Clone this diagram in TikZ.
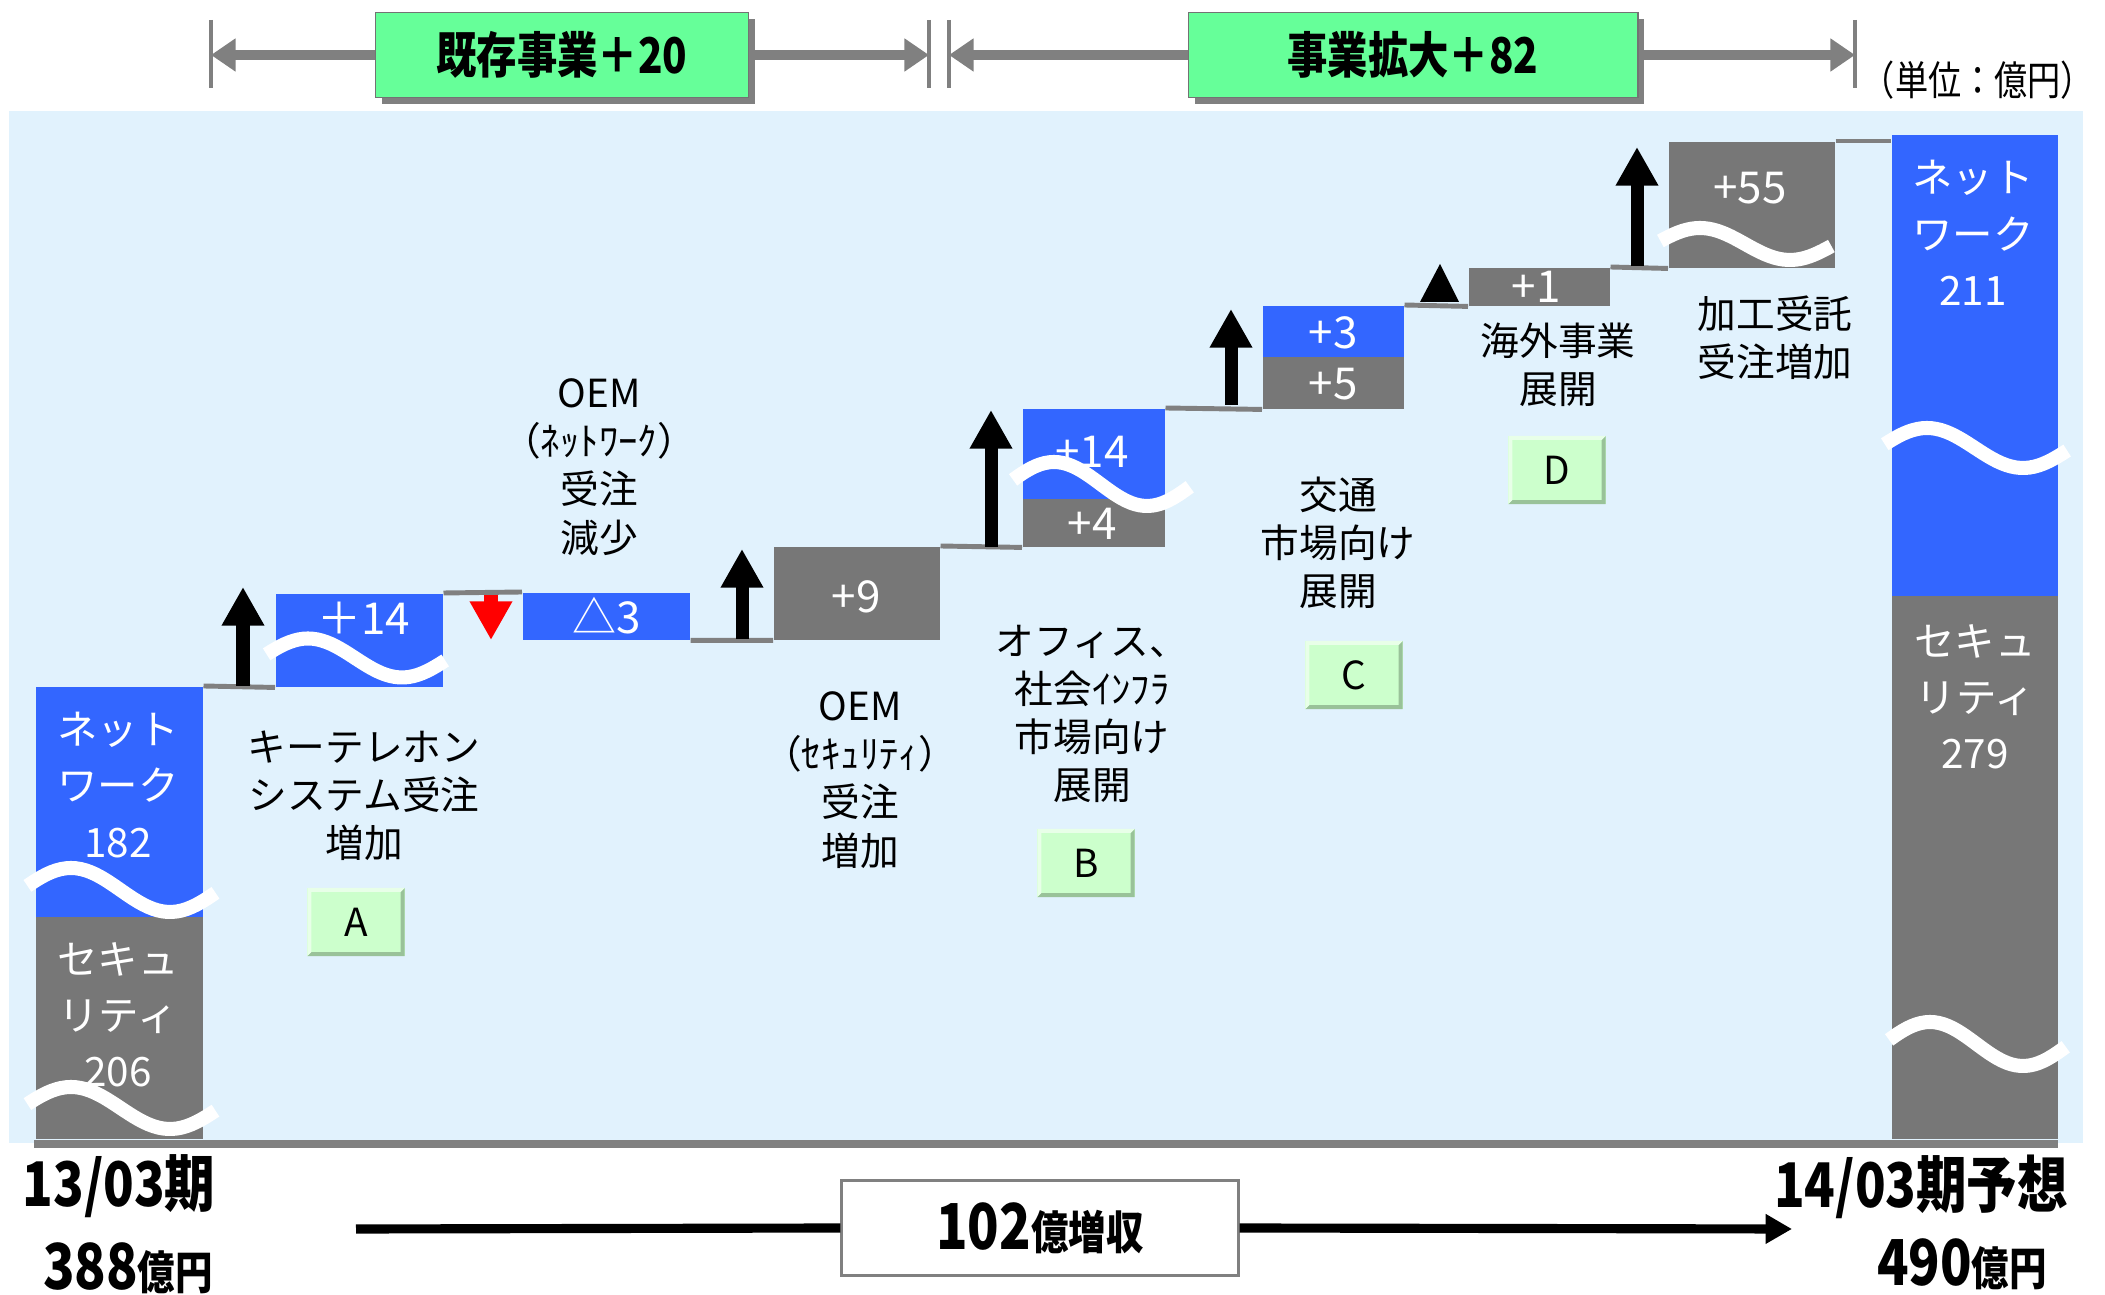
\documentclass[tikz,border=0pt]{standalone}
\usepackage{fontspec}
\newfontfamily\jp{Noto Sans CJK JP}
\newfontfamily\jpc[FakeStretch=0.82]{Noto Sans CJK JP}
\usetikzlibrary{arrows.meta,shadows}

\definecolor{netblue}{HTML}{3366FF}
\definecolor{secgray}{HTML}{777777}
\definecolor{bgblue}{HTML}{E1F2FD}
\definecolor{linegray}{HTML}{808080}
\definecolor{topgreen}{HTML}{66FF99}
\definecolor{lgreen}{HTML}{CCFFCC}
\definecolor{lgreendk}{HTML}{99C299}
\definecolor{lgreenlt}{HTML}{E8FFE8}

% white break mark: start x, centre y, period, amplitude
\newcommand{\breakwave}[4]{%
  \draw[wave] plot[domain=0.03:0.98, samples=40] ({#1+\x*#3},{#2-#4*sin(\x*360)});}

\tikzset{
  bar/.style={rectangle, inner sep=0pt, anchor=north west},
  netbar/.style={bar, fill=netblue},
  secbar/.style={bar, fill=secgray},
  steplink/.style={draw=linegray, line width=1.4pt},
  wave/.style={white, line width=4pt},
  uparrow/.style={line width=3.7pt, -{Triangle[width=11.4pt,length=11pt]}},
  bartxt/.style={white, align=center, font=\jp\fontsize{11.5}{16}\selectfont},
  numtxt/.style={white, font=\jp\fontsize{12.5}{15}\selectfont},
  lbl/.style={align=center, font=\jp\fontsize{11}{13.7}\selectfont},
  letterbox/.style={rectangle, fill=lgreen, inner sep=0pt,
    minimum width=0.97cm, minimum height=0.68cm,
    font=\jp\fontsize{11}{13}\selectfont,
    path picture={
      \fill[lgreendk] (path picture bounding box.south west) -- (path picture bounding box.south east)
        -- (path picture bounding box.north east) -- ++(-1.1pt,-1.1pt)
        |- ([shift={(1.1pt,1.1pt)}]path picture bounding box.south west) -- cycle;
      \fill[lgreenlt] (path picture bounding box.south west) -- (path picture bounding box.north west)
        -- (path picture bounding box.north east) -- ++(-1.1pt,-1.1pt)
        -| ([shift={(1.1pt,1.1pt)}]path picture bounding box.south west) -- cycle;
    }},
  topbox/.style={rectangle, draw=black!55, line width=0.5pt, fill=topgreen,
    minimum height=0.85cm, inner sep=0pt,
    drop shadow={shadow xshift=1.8pt, shadow yshift=-1.8pt, fill=linegray, opacity=1},
    font=\jpc\bfseries\fontsize{14}{16}\selectfont},
  tickline/.style={draw=linegray, line width=1.1pt},
  spanline/.style={draw=linegray, line width=3pt},
  periodtxt/.style={font=\jpc\bfseries\fontsize{17.5}{20}\selectfont},
  sumline/.style={draw=black, line width=2.6pt},
}

\begin{document}
\begin{tikzpicture}[x=0.01cm, y=-0.01cm, font=\jp]
\useasboundingbox (0,0) rectangle (2105,1295);

% background
\fill[bgblue] (9,111) rectangle (2083,1143);

% top spans
\draw[tickline] (211,20) -- (211,88);
\draw[tickline] (929,20) -- (929,88);
\draw[tickline] (949,20) -- (949,88);
\draw[tickline] (1855,20) -- (1855,88);
\coordinate (s1a) at (211,55);
\coordinate (s1b) at (929,55);
\coordinate (s2a) at (949,55);
\coordinate (s2b) at (1855,55);
\node[topbox, minimum width=3.73cm] (kizon) at (562,55) {既存事業＋20};
\node[topbox, minimum width=4.49cm] (kakudai) at (1413,55) {事業拡大＋82};
\draw[spanline, -{Triangle[width=9pt,length=7pt]}] (kizon.west) -- (s1a);
\draw[spanline, -{Triangle[width=9pt,length=7pt]}] (kizon.east) -- (s1b);
\draw[spanline, -{Triangle[width=9pt,length=7pt]}] (kakudai.west) -- (s2a);
\draw[spanline, -{Triangle[width=9pt,length=7pt]}] (kakudai.east) -- (s2b);
\node[font=\jpc\fontsize{11.5}{13}\selectfont] (unit) at (1978,80) {（単位：億円）};

% bars
\node[netbar, minimum width=1.67cm, minimum height=2.30cm] (lnet) at (35,686) {};
\node[secbar, minimum width=1.67cm, minimum height=2.22cm] (lsec) at (35,916) {};
\node[netbar, minimum width=1.67cm, minimum height=0.93cm] (k14) at (275,593) {};
\node[netbar, minimum width=1.67cm, minimum height=0.47cm] (d3) at (522,592) {};
\node[secbar, minimum width=1.66cm, minimum height=0.93cm] (p9) at (773,546) {};
\node[netbar, minimum width=1.42cm, minimum height=0.90cm] (bnet) at (1022,408) {};
\node[secbar, minimum width=1.42cm, minimum height=0.48cm] (bsec) at (1022,498) {};
\node[netbar, minimum width=1.41cm, minimum height=0.51cm] (cnet) at (1262,305) {};
\node[secbar, minimum width=1.41cm, minimum height=0.52cm] (csec) at (1262,356) {};
\node[secbar, minimum width=1.41cm, minimum height=0.38cm] (p1) at (1468,267) {};
\node[secbar, minimum width=1.66cm, minimum height=1.26cm] (p55) at (1668,141) {};
\node[netbar, minimum width=1.66cm, minimum height=4.61cm] (rnet) at (1891,134) {};
\node[secbar, minimum width=1.66cm, minimum height=5.43cm] (rsec) at (1891,595) {};

% steps
\draw[steplink] (lnet.north east) -- (k14.south west);
\draw[steplink] (k14.north east) -- (d3.north west);
\draw[steplink] (d3.south east) -- (p9.south west);
\draw[steplink] (p9.north east) -- (bsec.south west);
\draw[steplink] (bnet.north east) -- (csec.south west);
\draw[steplink] (cnet.north east) -- (p1.south west);
\draw[steplink] (p1.north east) -- (p55.south west);
\draw[steplink] (p55.north east) -- (p55.north east -| rnet.west);

% up / down marks
\draw[uparrow] (243,686) -- (243,587);
\draw[uparrow, red] (491,595) -- (491,640);
\draw[uparrow] (742,639) -- (742,549);
\draw[uparrow] (991,547) -- (991,410);
\draw[uparrow] (1231,405) -- (1231,309);
\fill (1420,302) -- (1440,264) -- (1459,302) -- cycle;
\draw[uparrow] (1637,266) -- (1637,147);

% break marks
\breakwave{21.5}{890}{198}{22}
\breakwave{21.5}{1108}{198}{21}
\breakwave{261}{658}{188}{19.5}
\breakwave{1007.5}{484}{186}{22}
\breakwave{1655}{244}{180}{16}
\breakwave{1879}{448}{192}{20}
\breakwave{1883.5}{1044}{186}{22}

% texts in bars
\node[bartxt] (lnettx) at (118,785) {ネット\\ワーク\\182};
\node[bartxt] (lsectx) at (118,1015) {セキュ\\リティ\\206};
\node[bartxt] (rnettx) at (1973,233) {ネット\\ワーク\\211};
\node[bartxt] (rsectx) at (1975,697) {セキュ\\リティ\\279};
\node[numtxt] (k14tx) at (364,618) {＋14};
\node[numtxt] (d3tx) at (607,616) {△3};
\node[numtxt] (p9tx) at (856,597) {+9};
\node[numtxt] (bnettx) at (1092,452) {+14};
\node[numtxt] (bsectx) at (1092,524) {+4};
\node[numtxt] (cnettx) at (1333,333) {+3};
\node[numtxt] (csectx) at (1333,384) {+5};
\node[numtxt] (p1tx) at (1536,287) {+1};
\node[numtxt] (p55tx) at (1750,188) {+55};

% factor labels
\node[lbl] (lbA) at (364,796) {キーテレホン\\システム受注\\増加};
\node[letterbox] (bxA) at (356,922) {A};
\node[lbl] (lbOn) at (599,467) {OEM\\（ﾈｯﾄﾜｰｸ）\\受注\\減少};
\node[lbl] (lbOs) at (860,780) {OEM\\（ｾｷｭﾘﾃｨ）\\受注\\増加};
\node[lbl] (lbB) at (1092,714) {オフィス、\\社会ｲﾝﾌﾗ\\市場向け\\展開};
\node[letterbox] (bxB) at (1086,863) {B};
\node[lbl] (lbC) at (1338,543) {交通\\市場向け\\展開};
\node[letterbox] (bxC) at (1354,675) {C};
\node[lbl] (lbD) at (1558,365) {海外事業\\展開};
\node[letterbox] (bxD) at (1557,470) {D};
\node[lbl] (lbE) at (1775,338) {加工受託\\受注増加};

% bottom
\draw[line width=2.3pt, linegray] (34,1144) -- (2058,1144);
\node[periodtxt] (fy13) at (119,1186) {13/03期};
\node[periodtxt] (amt13) at (128,1268) {{\fontsize{18}{20}\selectfont 388}{\fontsize{13}{15}\selectfont 億円}};
\node[periodtxt] (fy14) at (1921,1187) {14/03期予想};
\node[periodtxt] (amt14) at (1962,1264) {{\fontsize{18}{20}\selectfont 490}{\fontsize{13}{15}\selectfont 億円}};
\coordinate (sumst) at (356,1229);
\coordinate (sumend) at (1792,1229);
\node[rectangle, draw=linegray, line width=0.8pt, fill=white, minimum width=3.96cm, minimum height=0.95cm,
  inner sep=0pt, font=\jpc\bfseries] (sumbox) at (1040,1228)
  {{\fontsize{18}{20}\selectfont 102}{\fontsize{13}{15}\selectfont 億増収}};
\draw[sumline] (sumst) -- (sumbox.west);
\draw[sumline, -{Triangle[width=8pt,length=7.5pt]}] (sumbox.east) -- (sumend);
\end{tikzpicture}
\end{document}
